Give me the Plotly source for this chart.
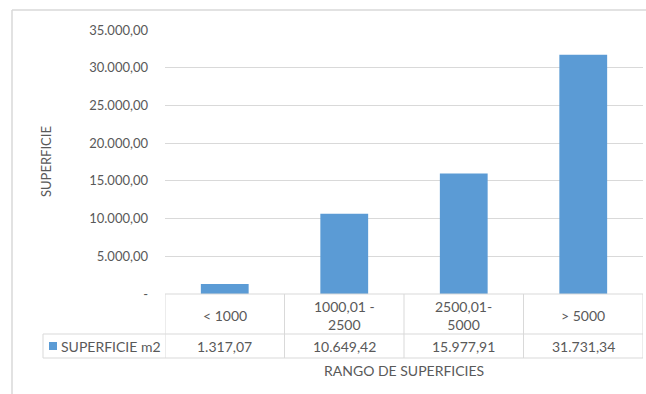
"""Bar chart with Excel-style data table: superficie por rango."""

import plotly.graph_objects as go

categorias = ["< 1000", "1000,01 -<br>2500", "2500,01-<br>5000", "> 5000"]
superficie = [1317.07, 10649.42, 15977.91, 31731.34]
serie_nombre = "SUPERFICIE m2"
y_ticks = [0, 5000, 10000, 15000, 20000, 25000, 30000, 35000]

BLUE = "#5b9bd5"
GRID = "#d9d9d9"
TEXT = "#595959"
FONT = "Lato"

# plot area in pixels
L, R, T, B = 165, 643, 30, 294
W, H = R - L, B - T


def es(v):
    s = f"{v:,.2f}"
    return s.replace(",", "X").replace(".", ",").replace("X", ".")


def px_x(p):
    return (p - L) / W


def px_y(p):
    return (B - p) / H


def note(x, y, text, xref="paper", size=14, **kw):
    d = dict(x=x, y=y, xref=xref, yref="paper", text=text, showarrow=False,
             xanchor="center", yanchor="middle", font=dict(size=size, color=TEXT))
    d.update(kw)
    return d


fig = go.Figure(
    go.Bar(x=list(range(len(categorias))), y=superficie, marker_color=BLUE,
           marker_line_width=0, hoverinfo="skip")
)

shapes = []
ann = []
line = dict(color=GRID, width=1)

# table rows
row1_top, row1_bot, row2_bot = 294, 334, 358
for yy in (row1_top, row1_bot):
    shapes.append(dict(type="line", xref="paper", yref="paper", x0=0, x1=1,
                       y0=px_y(yy), y1=px_y(yy), line=line))
shapes.append(dict(type="line", xref="paper", yref="paper", x0=px_x(43), x1=1,
                   y0=px_y(row2_bot), y1=px_y(row2_bot), line=line))
shapes.append(dict(type="line", xref="paper", yref="paper", x0=px_x(43), x1=0,
                   y0=px_y(row1_bot), y1=px_y(row1_bot), line=line))
shapes.append(dict(type="line", xref="paper", yref="paper", x0=px_x(43), x1=px_x(43),
                   y0=px_y(row1_bot), y1=px_y(row2_bot), line=line))
for i in range(len(categorias) + 1):
    shapes.append(dict(type="line", xref="x", yref="paper", x0=i - 0.5, x1=i - 0.5,
                       y0=px_y(row1_top), y1=px_y(row2_bot), line=line))

for i, (c, v) in enumerate(zip(categorias, superficie)):
    ann.append(note(i, px_y(315), c, xref="x"))
    ann.append(note(i, px_y(346), es(v), xref="x"))

# legend key
shapes.append(dict(type="rect", xref="paper", yref="paper", x0=px_x(49), x1=px_x(57),
                   y0=px_y(342), y1=px_y(350), fillcolor=BLUE, line_width=0))
ann.append(note(px_x(59), px_y(346), serie_nombre, xanchor="left"))

# axis titles
ann.append(note(px_x(404), px_y(370), "RANGO DE SUPERFICIES"))
ann.append(note(px_x(46), px_y(162), "SUPERFICIE", size=13, textangle=-90))

# chart border (left and top)
shapes.append(dict(type="line", xref="paper", yref="paper", x0=px_x(12), x1=px_x(12),
                   y0=px_y(10), y1=px_y(394), line=dict(color=GRID, width=1.5)))
shapes.append(dict(type="line", xref="paper", yref="paper", x0=px_x(12), x1=px_x(646),
                   y0=px_y(10), y1=px_y(10), line=dict(color=GRID, width=1.5)))

fig.update_layout(
    width=646, height=394,
    margin=dict(l=L, r=646 - R, t=T, b=394 - B),
    plot_bgcolor="white", paper_bgcolor="white",
    font=dict(family=FONT, color=TEXT, size=13),
    showlegend=False, bargap=0.6,
    xaxis=dict(range=[-0.5, 3.5], showticklabels=False, showgrid=False,
               zeroline=False, showline=False),
    yaxis=dict(range=[0, 35000], tickvals=y_ticks,
               ticktext=["-" if v == 0 else es(v) for v in y_ticks],
               gridcolor=GRID, gridwidth=1, zeroline=False, showline=False,
               ticklabelstandoff=16, tickfont=dict(size=13, color=TEXT)),
    shapes=shapes, annotations=ann,
)

fig.write_html(
    "out.html",
    config={"displayModeBar": False},
    post_script="document.body.style.margin='0';document.body.style.overflow='hidden';",
)
